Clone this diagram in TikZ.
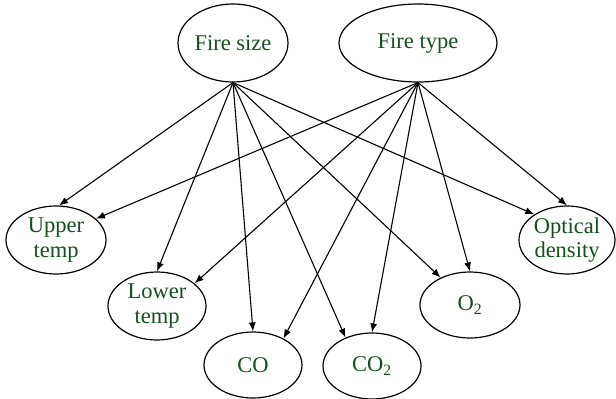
\documentclass[tikz,border=0pt]{standalone}
\usepackage{fontspec}
\setmainfont{Liberation Serif}
\usetikzlibrary{shapes.geometric,arrows.meta}
\definecolor{txtgreen}{RGB}{20,80,30}
\begin{document}
\begin{tikzpicture}[x=1pt,y=-1pt,
  var/.style={draw, line width=1.2pt, ellipse, inner sep=0pt, align=center,
    text=txtgreen, font=\fontsize{22.5}{24.5}\selectfont},
  edge/.style={line width=1.1pt, -{Latex[length=9pt,width=7pt]}}]
\useasboundingbox (0,0) rectangle (616,399);
\node[var, minimum width=110pt, minimum height=78pt] (fs) at (233,43) {Fire size};
\node[var, minimum width=158pt, minimum height=78pt] (ft) at (418,43) {Fire type};
\node[var, minimum width=100pt, minimum height=68pt] (ut) at (56,240) {Upper\\temp};
\node[var, minimum width=98pt, minimum height=68pt] (lt) at (157,306) {Lower\\temp};
\node[var, minimum width=98pt, minimum height=66pt] (co) at (253,365) {CO};
\node[var, minimum width=98pt, minimum height=66pt] (co2) at (372,366) {CO\textsubscript{2}};
\node[var, minimum width=100pt, minimum height=66pt] (o2) at (470,305) {O\textsubscript{2}};
\node[var, minimum width=96pt, minimum height=68pt] (od) at (567,240) {Optical\\density};
\draw[edge] (fs.south) -- (ut.85);
\draw[edge] (fs.south) -- (lt.north);
\draw[edge] (fs.south) -- (co.north);
\draw[edge] (fs.south) -- (co2.133);
\draw[edge] (fs.south) -- (o2.137);
\draw[edge] (fs.south) -- (od.142);
\draw[edge] (ft.south) -- (ut.28);
\draw[edge] (ft.south) -- (lt.31);
\draw[edge] (ft.south) -- (co.41);
\draw[edge] (ft.south) -- (co2.north);
\draw[edge] (ft.south) -- (o2.north);
\draw[edge] (ft.south) -- (od.north);
\end{tikzpicture}
\end{document}
